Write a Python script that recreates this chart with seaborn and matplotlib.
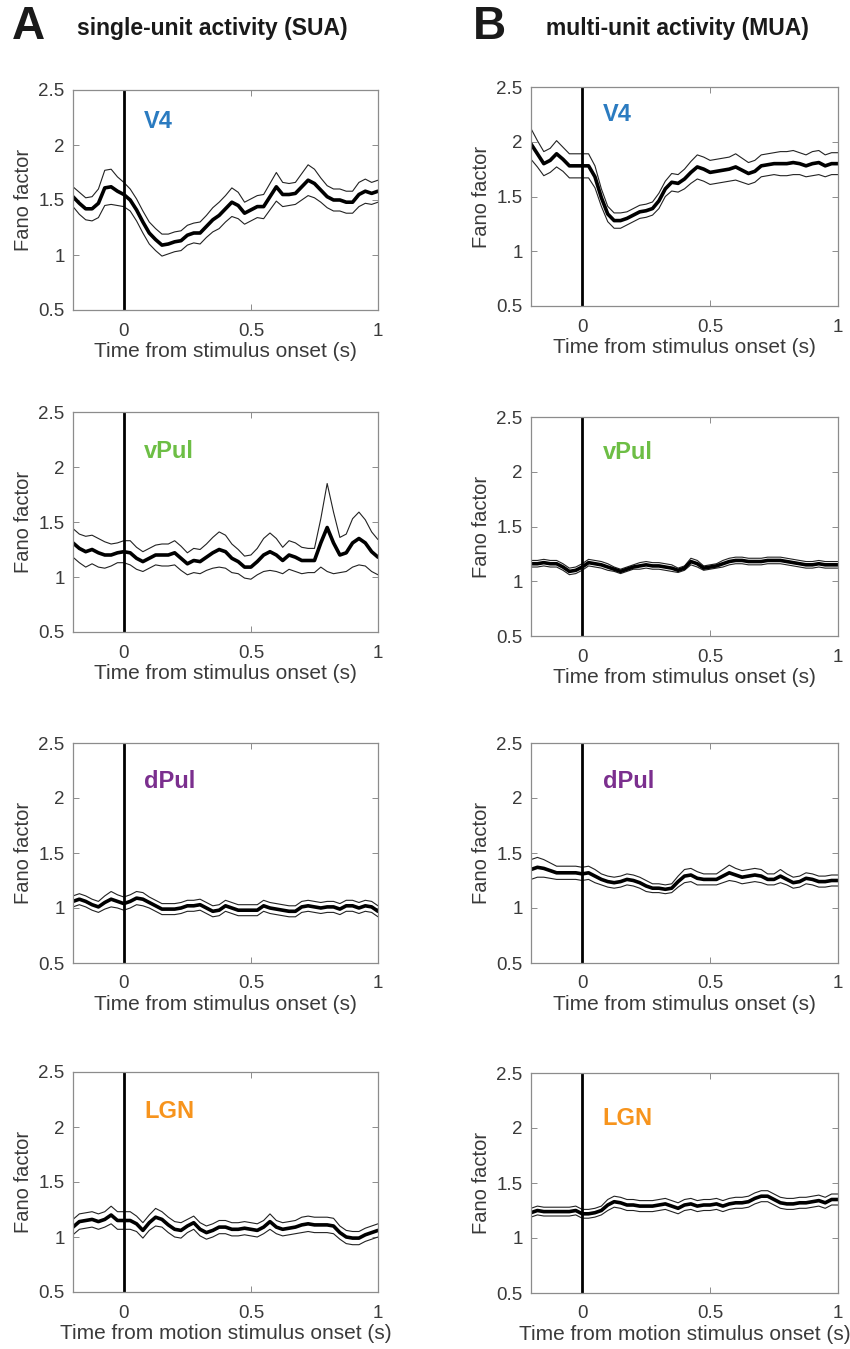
import numpy as np
import pandas as pd
import matplotlib
matplotlib.use("Agg")
import matplotlib.pyplot as plt
import seaborn as sns

sns.set_style("ticks")
plt.rcParams['font.family'] = ['Liberation Sans', 'DejaVu Sans']

# time grid (s) on which the Fano factor traces were sampled
time = np.linspace(-0.2, 1.0, 49)

regions = ["V4", "vPul", "dPul", "LGN"]
region_colors = ["#2B7BC0", "#6DBE45", "#7B2F8E", "#F7941D"]

# SUA (column A): mean Fano factor and SEM
sua_v4_mean = [1.53, 1.47, 1.42, 1.42, 1.47, 1.61, 1.62, 1.58, 1.55, 1.50,
               1.41, 1.30, 1.20, 1.14, 1.09, 1.10, 1.12, 1.13, 1.18, 1.20,
               1.20, 1.26, 1.32, 1.36, 1.42, 1.48, 1.45, 1.38, 1.41, 1.44,
               1.44, 1.53, 1.62, 1.55, 1.55, 1.56, 1.62, 1.68, 1.65, 1.59,
               1.53, 1.50, 1.50, 1.48, 1.48, 1.55, 1.58, 1.56, 1.58]
sua_v4_sem = [.09, .10, .10, .11, .13, .16, .16, .13, .11, .10,
              .10, .10, .10, .10, .10, .09, .09, .09, .09, .09,
              .10, .10, .11, .12, .12, .13, .12, .10, .10, .10,
              .11, .12, .13, .11, .10, .10, .12, .14, .13, .11,
              .10, .10, .10, .10, .10, .11, .11, .10, .10]

sua_vpul_mean = [1.31, 1.26, 1.23, 1.25, 1.22, 1.20, 1.20, 1.22, 1.23, 1.22,
                 1.17, 1.14, 1.17, 1.20, 1.20, 1.20, 1.22, 1.17, 1.12, 1.15,
                 1.14, 1.18, 1.22, 1.25, 1.23, 1.17, 1.14, 1.09, 1.09, 1.14,
                 1.20, 1.23, 1.20, 1.15, 1.20, 1.18, 1.15, 1.15, 1.15, 1.31,
                 1.45, 1.31, 1.20, 1.22, 1.31, 1.35, 1.31, 1.23, 1.18]
sua_vpul_sem = [.13, .13, .14, .13, .13, .12, .10, .09, .10, .11,
                .10, .09, .09, .09, .10, .10, .11, .11, .10, .11,
                .11, .12, .14, .16, .15, .13, .11, .10, .11, .12,
                .15, .17, .15, .12, .13, .13, .12, .11, .11, .22,
                .40, .28, .16, .17, .22, .24, .21, .18, .16]

sua_dpul_mean = [1.06, 1.08, 1.06, 1.03, 1.01, 1.05, 1.08, 1.06, 1.04, 1.06,
                 1.09, 1.08, 1.05, 1.02, 0.99, 0.99, 0.99, 1.00, 1.02, 1.02,
                 1.03, 1.00, 0.97, 0.98, 1.02, 1.00, 0.98, 0.98, 0.98, 0.98,
                 1.02, 1.00, 0.99, 0.98, 0.97, 0.97, 1.01, 1.02, 1.01, 1.00,
                 1.01, 1.01, 0.99, 1.02, 1.02, 1.00, 1.02, 1.01, 0.97]
sua_dpul_sem = [.05, .05, .05, .05, .05, .06, .07, .06, .06, .06,
                .06, .06, .05, .05, .05, .05, .05, .05, .05, .05,
                .05, .05, .05, .05, .05, .05, .05, .05, .05, .05,
                .05, .05, .05, .05, .05, .05, .05, .05, .05, .05,
                .05, .05, .05, .05, .05, .05, .05, .05, .05]

sua_lgn_mean = [1.09, 1.14, 1.15, 1.16, 1.14, 1.16, 1.20, 1.15, 1.15, 1.15,
                1.12, 1.06, 1.13, 1.18, 1.16, 1.11, 1.07, 1.06, 1.10, 1.13,
                1.07, 1.04, 1.06, 1.09, 1.09, 1.07, 1.07, 1.08, 1.07, 1.06,
                1.09, 1.14, 1.09, 1.07, 1.08, 1.09, 1.11, 1.12, 1.11, 1.11,
                1.11, 1.10, 1.04, 1.00, 0.99, 0.99, 1.02, 1.04, 1.06]
sua_lgn_sem = [.07, .07, .07, .07, .07, .07, .08, .08, .08, .08,
               .07, .07, .07, .08, .07, .07, .07, .07, .06, .06,
               .06, .06, .06, .06, .06, .06, .06, .06, .06, .06,
               .06, .07, .06, .06, .06, .06, .07, .07, .07, .07,
               .07, .07, .06, .06, .06, .06, .06, .06, .06]

# MUA (column B)
mua_v4_mean = [1.98, 1.89, 1.80, 1.83, 1.89, 1.84, 1.78, 1.78, 1.78, 1.78,
               1.68, 1.49, 1.34, 1.28, 1.28, 1.30, 1.33, 1.36, 1.37, 1.39,
               1.46, 1.57, 1.63, 1.62, 1.66, 1.72, 1.77, 1.75, 1.72, 1.73,
               1.74, 1.75, 1.77, 1.74, 1.71, 1.73, 1.78, 1.79, 1.80, 1.80,
               1.80, 1.81, 1.80, 1.78, 1.80, 1.81, 1.78, 1.80, 1.80]
mua_v4_sem = [.14, .12, .11, .11, .12, .11, .11, .11, .11, .11,
              .10, .08, .07, .07, .07, .06, .06, .06, .06, .06,
              .07, .07, .08, .08, .09, .10, .11, .11, .11, .11,
              .11, .11, .12, .11, .10, .10, .10, .10, .10, .11,
              .11, .11, .10, .10, .11, .11, .10, .10, .10]

mua_vpul_mean = [1.16, 1.16, 1.17, 1.16, 1.16, 1.13, 1.09, 1.10, 1.13, 1.17,
                 1.16, 1.15, 1.13, 1.11, 1.09, 1.11, 1.13, 1.14, 1.15, 1.14,
                 1.14, 1.13, 1.12, 1.10, 1.12, 1.18, 1.16, 1.12, 1.13, 1.14,
                 1.16, 1.18, 1.19, 1.19, 1.18, 1.18, 1.18, 1.19, 1.19, 1.19,
                 1.18, 1.17, 1.16, 1.15, 1.15, 1.16, 1.15, 1.15, 1.15]
mua_vpul_sem = [.03, .03, .03, .03, .03, .03, .03, .03, .03, .03,
                .03, .03, .03, .02, .02, .02, .02, .03, .03, .03,
                .03, .03, .03, .02, .02, .03, .03, .02, .02, .02,
                .03, .03, .03, .03, .03, .03, .03, .03, .03, .03,
                .03, .03, .03, .03, .03, .03, .03, .03, .03]

mua_dpul_mean = [1.35, 1.37, 1.36, 1.34, 1.32, 1.32, 1.32, 1.32, 1.31, 1.32,
                 1.29, 1.26, 1.24, 1.23, 1.24, 1.26, 1.25, 1.23, 1.20, 1.18,
                 1.18, 1.17, 1.18, 1.24, 1.29, 1.30, 1.27, 1.26, 1.26, 1.26,
                 1.29, 1.32, 1.30, 1.28, 1.29, 1.30, 1.29, 1.26, 1.26, 1.29,
                 1.26, 1.23, 1.24, 1.27, 1.26, 1.24, 1.24, 1.25, 1.25]
mua_dpul_sem = [.09, .09, .08, .07, .06, .06, .06, .06, .06, .06,
                .06, .05, .05, .05, .05, .05, .05, .05, .05, .04,
                .04, .04, .04, .05, .06, .06, .06, .05, .05, .05,
                .06, .07, .06, .06, .06, .06, .06, .05, .05, .06,
                .05, .05, .05, .05, .05, .05, .05, .05, .05]

mua_lgn_mean = [1.23, 1.25, 1.24, 1.24, 1.24, 1.24, 1.24, 1.25, 1.22, 1.22,
                1.23, 1.25, 1.30, 1.33, 1.32, 1.30, 1.30, 1.29, 1.29, 1.29,
                1.30, 1.31, 1.29, 1.27, 1.30, 1.31, 1.29, 1.30, 1.30, 1.31,
                1.29, 1.31, 1.32, 1.32, 1.33, 1.36, 1.38, 1.38, 1.35, 1.32,
                1.31, 1.31, 1.32, 1.32, 1.33, 1.34, 1.32, 1.35, 1.35]
mua_lgn_sem = [.04, .04, .04, .04, .04, .04, .04, .04, .04, .04,
               .04, .04, .05, .05, .05, .05, .05, .05, .05, .05,
               .05, .05, .05, .05, .05, .05, .05, .05, .05, .05,
               .05, .05, .05, .05, .05, .05, .05, .05, .05, .05,
               .05, .05, .05, .05, .05, .05, .05, .05, .05]

sua_means = [sua_v4_mean, sua_vpul_mean, sua_dpul_mean, sua_lgn_mean]
sua_sems = [sua_v4_sem, sua_vpul_sem, sua_dpul_sem, sua_lgn_sem]
mua_means = [mua_v4_mean, mua_vpul_mean, mua_dpul_mean, mua_lgn_mean]
mua_sems = [mua_v4_sem, mua_vpul_sem, mua_dpul_sem, mua_lgn_sem]

xlabels = ["Time from stimulus onset (s)"] * 3 + ["Time from motion stimulus onset (s)"]

W, H = 850, 1349
fig = plt.figure(figsize=(W / 100, H / 100), dpi=100)

# axes boxes in pixels: (left, right) per column, (top, bottom) per row/column
col_x = [(73, 378), (531, 838)]
row_y = [[(90, 310), (87, 306)],
         [(412, 632), (417, 636)],
         [(743, 963), (743, 963)],
         [(1072, 1292), (1073, 1293)]]
# vertical placement of the region name inside each panel
label_y = [[2.21, 2.25], [2.14, 2.18], [2.15, 2.15], [2.14, 2.09]]

GREY = "#8c8c8c"
TXT = "#3a3a3a"


def draw_panel(ax, mean, sem, label, color, xlabel, ly):
    df = pd.DataFrame({"time": time, "mean": mean, "sem": sem})
    df["upper"] = df["mean"] + df["sem"]
    df["lower"] = df["mean"] - df["sem"]
    sns.lineplot(data=df, x="time", y="upper", ax=ax, color="#222222", lw=0.8)
    sns.lineplot(data=df, x="time", y="lower", ax=ax, color="#222222", lw=0.8)
    sns.lineplot(data=df, x="time", y="mean", ax=ax, color="black", lw=2.6,
                 solid_joinstyle="round")
    ax.axvline(0, color="black", lw=2.0)
    ax.set_xlim(-0.2, 1.0)
    ax.set_ylim(0.5, 2.5)
    ax.set_xticks([0, 0.5, 1])
    ax.set_xticklabels(["0", "0.5", "1"])
    ax.set_yticks([0.5, 1, 1.5, 2, 2.5])
    ax.set_yticklabels(["0.5", "1", "1.5", "2", "2.5"])
    ax.tick_params(direction="in", top=True, right=True, length=4, width=0.7,
                   color=GREY, labelcolor=TXT, labelsize=13.5)
    ax.tick_params(axis="x", pad=9)
    ax.tick_params(axis="y", pad=6)
    for sp in ax.spines.values():
        sp.set_color(GREY)
        sp.set_linewidth(0.9)
    ax.set_xlabel(xlabel, fontsize=15, color=TXT, labelpad=2)
    ax.set_ylabel("Fano factor", fontsize=14.5, color=TXT, labelpad=4)
    ax.text(0.08, ly, label, color=color, fontsize=17, fontweight="bold",
            va="center", ha="left")


for r in range(4):
    for c in range(2):
        x0, x1 = col_x[c]
        y0, y1 = row_y[r][c]
        ax = fig.add_axes([x0 / W, 1 - y1 / H, (x1 - x0) / W, (y1 - y0) / H])
        means = sua_means if c == 0 else mua_means
        sems = sua_sems if c == 0 else mua_sems
        draw_panel(ax, means[r], sems[r], regions[r], region_colors[r],
                   xlabels[r], label_y[r][c])

# panel headers
fig.text(12 / W, 1 - 27 / H, "A", fontsize=33, fontweight="bold", va="center", ha="left", color="#1a1a1a")
fig.text(77 / W, 1 - 28 / H, "single-unit activity (SUA)", fontsize=16.5, fontweight="bold",
         va="center", ha="left", color="#1a1a1a")
fig.text(473 / W, 1 - 27 / H, "B", fontsize=33, fontweight="bold", va="center", ha="left", color="#1a1a1a")
fig.text(546 / W, 1 - 28 / H, "multi-unit activity (MUA)", fontsize=16.5, fontweight="bold",
         va="center", ha="left", color="#1a1a1a")

fig.savefig("out.png", dpi=100)
